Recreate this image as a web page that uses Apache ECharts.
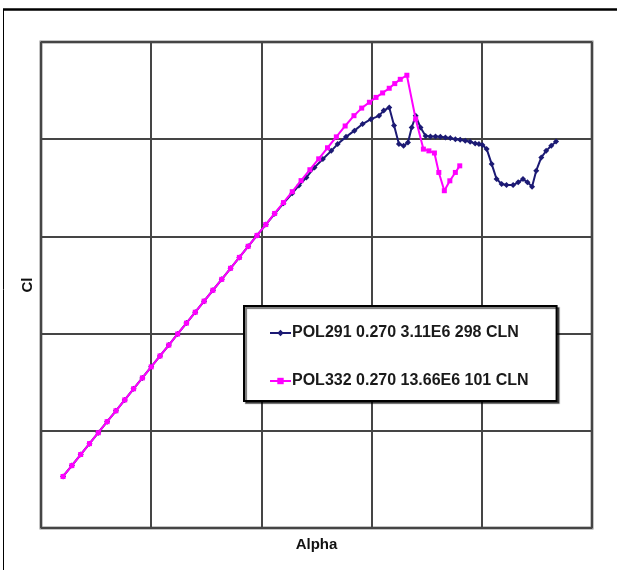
<!DOCTYPE html>
<html>
<head>
<meta charset="utf-8">
<script src="https://cdn.jsdelivr.net/npm/echarts@6/dist/echarts.min.js"></script>
<style>
html,body{margin:0;padding:0;background:#fff;}
#c{width:617px;height:570px;}
</style>
</head>
<body>
<div id="c"></div>
<script>
// Series names
const seriesNames = ['POL291 0.270 3.11E6 298 CLN', 'POL332 0.270 13.66E6 101 CLN'];

// POL291 (navy)
const alpha291 = [-9.0,-8.6,-8.2,-7.8,-7.4,-7.0,-6.6,-6.2,-5.8,-5.4,-5.0,-4.6,-4.2,-3.8,-3.4,-3.0,-2.6,-2.2,-1.8,-1.4,-1.0,-0.6,-0.2,0.2,0.6,
  1.0,1.4,1.7,2.04,2.41,2.79,3.17,3.46,3.84,4.22,4.59,4.97,5.34,5.55,5.8,6.02,6.24,6.45,6.65,6.82,7.0,7.22,7.45,7.67,7.9,8.12,8.35,8.57,8.8,9.02,9.25,9.47,9.7,9.87,10.03,10.22,10.45,10.67,10.9,11.12,11.42,11.65,11.87,12.07,12.28,12.47,12.7,12.92,13.15,13.37];
const cl291 = [-0.235,-0.179,-0.122,-0.066,-0.010,0.047,0.103,0.159,0.216,0.272,0.329,0.385,0.441,0.498,0.554,0.610,0.667,0.723,0.779,0.836,0.892,0.949,1.005,1.061,1.116,
  1.170,1.222,1.262,1.303,1.355,1.398,1.440,1.475,1.512,1.544,1.578,1.603,1.620,1.648,1.663,1.570,1.475,1.466,1.483,1.560,1.620,1.560,1.517,1.514,1.514,1.512,1.509,1.506,1.500,1.497,1.492,1.487,1.478,1.475,1.470,1.450,1.372,1.295,1.270,1.264,1.264,1.278,1.295,1.278,1.256,1.338,1.406,1.440,1.466,1.488];

// POL332 (magenta)
const alpha332 = [-9.0,-8.6,-8.2,-7.8,-7.4,-7.0,-6.6,-6.2,-5.8,-5.4,-5.0,-4.6,-4.2,-3.8,-3.4,-3.0,-2.6,-2.2,-1.8,-1.4,-1.0,-0.6,-0.2,0.2,0.6,
  1.0,1.4,1.8,2.2,2.6,3.0,3.4,3.8,4.2,4.55,4.9,5.2,5.5,5.8,6.05,6.3,6.6,7.0,7.35,7.6,7.85,8.05,8.3,8.55,8.8,9.0];
const cl332 = [-0.235,-0.179,-0.122,-0.066,-0.010,0.047,0.103,0.159,0.216,0.272,0.329,0.385,0.441,0.498,0.554,0.610,0.667,0.723,0.779,0.836,0.892,0.949,1.005,1.061,1.118,
  1.174,1.230,1.287,1.343,1.399,1.456,1.512,1.568,1.621,1.660,1.690,1.715,1.738,1.762,1.786,1.808,1.829,1.604,1.449,1.440,1.429,1.329,1.235,1.286,1.329,1.363];

// Axis settings (no tick labels shown in the reference)
const xRange = [-10, 15, 5];
const yRange = [-0.5, 2.0, 0.5];

const pairs = (xs, ys) => xs.map((x, i) => [x, ys[i]]);

const chart = echarts.init(document.getElementById('c'), null, {renderer: 'canvas'});
chart.setOption({
  backgroundColor: '#ffffff',
  animation: false,
  graphic: [
    {type: 'line', shape: {x1: 3.5, y1: 9, x2: 3.5, y2: 570}, style: {stroke: '#000', lineWidth: 1}},
    {type: 'line', shape: {x1: 3, y1: 9.5, x2: 617, y2: 9.5}, style: {stroke: '#000', lineWidth: 2.5}}
  ],
  grid: {
    left: 41, top: 42, right: 25, bottom: 42,
    show: true, borderColor: '#8a8a8a', borderWidth: 3, backgroundColor: '#fff'
  },
  xAxis: {
    type: 'value', min: xRange[0], max: xRange[1], interval: xRange[2],
    name: 'Alpha', nameLocation: 'middle', nameGap: 9,
    nameTextStyle: {fontFamily: 'Liberation Sans, Arial, sans-serif', fontWeight: 'bold', fontSize: 15, color: '#111', verticalAlign: 'top'},
    axisLine: {show: false}, axisTick: {show: false}, axisLabel: {show: false},
    splitLine: {show: true, lineStyle: {color: '#454545', width: 2}}
  },
  yAxis: {
    type: 'value', min: yRange[0], max: yRange[1], interval: yRange[2],
    name: 'Cl', nameLocation: 'middle', nameGap: 6,
    nameTextStyle: {fontFamily: 'Liberation Sans, Arial, sans-serif', fontWeight: 'bold', fontSize: 15, color: '#111'},
    axisLine: {show: false}, axisTick: {show: false}, axisLabel: {show: false},
    splitLine: {show: true, lineStyle: {color: '#454545', width: 2}}
  },
  legend: {
    orient: 'vertical',
    left: 244, top: 306,
    padding: [19, 28, 12, 25],
    itemGap: 32,
    itemWidth: 21, itemHeight: 8,
    backgroundColor: '#fff',
    borderColor: '#000', borderWidth: 2,
    shadowColor: 'rgba(0,0,0,0.55)', shadowOffsetX: 2, shadowOffsetY: 2, shadowBlur: 1,
    textStyle: {fontFamily: 'Liberation Sans, Arial, sans-serif', fontWeight: 'bold', fontSize: 16, color: '#1a1a1a', padding: [0,0,0,-4]},
    data: seriesNames
  },
  series: [
    {
      name: seriesNames[0], type: 'line', data: pairs(alpha291, cl291),
      symbol: 'diamond', symbolSize: 6, showSymbol: true,
      lineStyle: {color: '#1c1a74', width: 2},
      itemStyle: {color: '#1c1a74'},
      z: 2
    },
    {
      name: seriesNames[1], type: 'line', data: pairs(alpha332, cl332),
      symbol: 'rect', symbolSize: 5, showSymbol: true,
      lineStyle: {color: '#ff00ff', width: 2},
      itemStyle: {color: '#ff00ff'},
      z: 3
    }
  ]
});
</script>
</body>
</html>
